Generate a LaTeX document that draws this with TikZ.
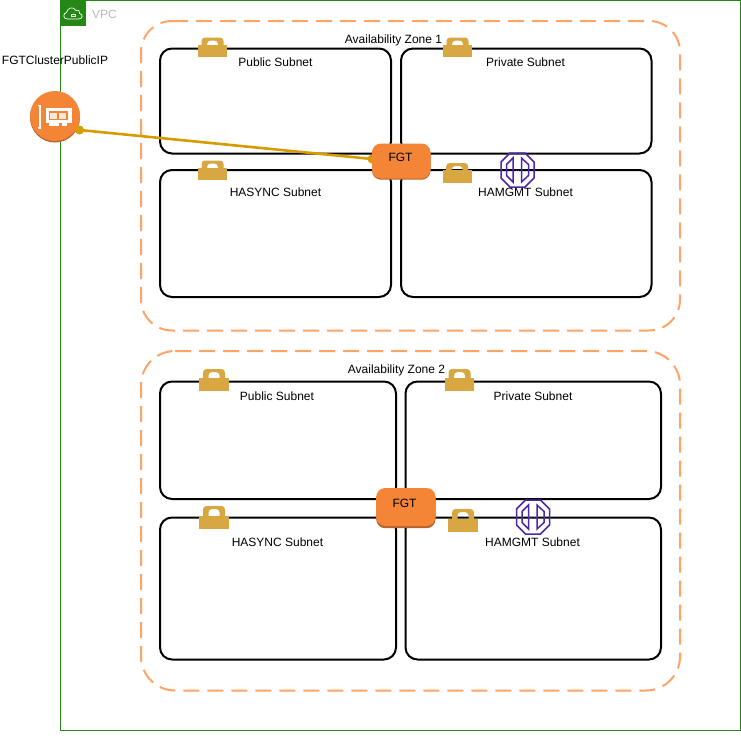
\documentclass[tikz,border=0pt]{standalone}
\usepackage{fontspec}
\setmainfont{Liberation Sans}
\definecolor{vpcgreen}{HTML}{248814}
\definecolor{azorange}{HTML}{FFA366}
\definecolor{awsorange}{HTML}{F58536}
\definecolor{awsdark}{HTML}{B8632A}
\definecolor{lockgold}{HTML}{D9A741}
\definecolor{edgegold}{HTML}{D79B00}
\definecolor{octpurple}{HTML}{4D27AA}
\tikzset{
  x=1pt,y=-1pt,
  vpcbox/.style={draw=vpcgreen,line width=1pt,fill=none},
  azbox/.style={draw=azorange,line width=2pt,dash pattern=on 16pt off 8pt},
  subnetbox/.style={draw=black,line width=2pt,rounded corners=12pt},
  lbl/.style={font=\fontsize{12}{14}\selectfont,inner sep=0pt,text=black},
  fgtbox/.style={fill=awsorange,rounded corners=9pt,draw=none},
  fgtshadow/.style={fill=awsdark,rounded corners=9pt,draw=none},
  conn/.style={draw=edgegold,line width=2.6pt},
  octo/.style={draw=octpurple,line width=1.5pt},
}
% x centre, shackle top, body top, body bottom
\newcommand{\mylock}[4]{%
  \fill[lockgold,even odd rule,rounded corners=3.5pt] (#1-11,#3+5) -- (#1-11,#2) -- (#1+11,#2) -- (#1+11,#3+5) -- cycle
     (#1-5.5,#3+5) -- (#1-5.5,#2+3) -- (#1+5.5,#2+3) -- (#1+5.5,#3+5) -- cycle;
  \fill[lockgold] (#1-14.7,#3) rectangle (#1+14.7,#4);
}
\newcommand{\myocto}[2]{%
  \begin{scope}[shift={(#1,#2)}]
    \draw[octo] (-7.5,-17) -- (7.5,-17) -- (16.5,-8) -- (16.5,8) -- (7.5,17) -- (-7.5,17) -- (-16.5,8) -- (-16.5,-8) -- cycle;
    \draw[octo] (-4.5,-12) -- (-4.5,12) -- (-11,5.5) -- (-11,-5.5) -- cycle;
    \draw[octo] (4,-12) -- (4,12) -- (11,5.5) -- (11,-5.5) -- cycle;
    \draw[octo,line width=.6pt,dotted] (-4.5,0) -- (4,0);
  \end{scope}}
\begin{document}
\begin{tikzpicture}
\useasboundingbox (0,0) rectangle (741,739);
% VPC
\draw[vpcbox] (60.5,0.5) rectangle (740.5,730.5);
\fill[vpcgreen] (60,0) rectangle (85.5,25.5);
\begin{scope}[shift={(73,13)}]
  \draw[white,line width=.7pt] (-5.5,6) .. controls (-10,6) and (-10.5,0.5) .. (-6.5,-0.5) .. controls (-5.5,-5.5) and (0.5,-7) .. (3,-2.5) .. controls (6,-3.5) and (7.5,-1) .. (6.5,0.5) .. controls (10.5,1) and (10,6) .. (5.5,6) -- cycle;
  \draw[white,line width=.6pt] (-2,0.9) rectangle (2,3.7);
  \draw[white,line width=.6pt] (-1.1,0.9) arc[start angle=180,end angle=0,radius=1.1];
\end{scope}
\node[lbl,text=gray!55] (vpclabel) at (104.5,14) {VPC};
% AZ boxes
\draw[azbox,rounded corners=31pt] (172,21) -- (680,21) -- (680,330.5) -- (141,330.5) -- (141,21) -- (172,21);
\draw[azbox,rounded corners=34pt] (175,351) -- (680,351) -- (680,690.5) -- (141,690.5) -- (141,351) -- (175,351);
\node[lbl] (az1) at (393.5,40) {Availability Zone 1};
\node[lbl] (az2) at (396.5,370) {Availability Zone 2};
% subnets AZ1
\draw[subnetbox] (160,48.5) rectangle (391,153.5);
\draw[subnetbox] (401,48.5) rectangle (651.5,153.5);
\draw[subnetbox] (160,170) rectangle (391,297);
\draw[subnetbox] (401,170) rectangle (651.5,297);
% subnets AZ2
\draw[subnetbox] (160,381.5) rectangle (396,499);
\draw[subnetbox] (405.5,381.5) rectangle (661,499);
\draw[subnetbox] (160,517.5) rectangle (396,659.5);
\draw[subnetbox] (405.5,517.5) rectangle (661,659.5);
% locks
\mylock{212.5}{37.5}{45}{56.7}
\mylock{457.5}{37.5}{45}{56.7}
\mylock{212.5}{160.5}{168}{180}
\mylock{457.2}{163}{170}{182.7}
\mylock{214}{369}{378}{391}
\mylock{459.5}{369}{378}{391}
\mylock{214}{506}{515.5}{528.5}
\mylock{463}{509}{518.5}{531.5}
% labels
\node[lbl] (pub1) at (275.5,62) {Public Subnet};
\node[lbl] (prv1) at (525.5,62) {Private Subnet};
\node[lbl] (has1) at (275.5,192) {HASYNC Subnet};
\node[lbl] (ham1) at (525.5,192) {HAMGMT Subnet};
\node[lbl] (pub2) at (277,396) {Public Subnet};
\node[lbl] (prv2) at (533,396) {Private Subnet};
\node[lbl] (has2) at (277.5,542) {HASYNC Subnet};
\node[lbl] (ham2) at (532.5,542) {HAMGMT Subnet};
% octagons
\myocto{517.5}{170}
\myocto{533}{517}
% IP
\fill[awsdark] (55,117.5) circle[radius=25];
\node[circle,fill=awsorange,minimum size=50pt,inner sep=0pt] (ip) at (55,116) {};
\begin{scope}[shift={(55,116)}]
  \draw[white,line width=1.2pt] (-17,-10.5) -- (-15,-10.5) -- (-15,12) -- (-17,12);
  \fill[white] (-9,-8) rectangle (17,7);
  \fill[white] (-6,7) rectangle (4,10);
  \fill[white] (7,7) rectangle (12,10);
  \filldraw[draw=awsorange,fill=white!80!awsorange,line width=1.2pt] (-5.5,-4) rectangle (3,3.5);
  \filldraw[draw=awsorange,fill=white!80!awsorange,line width=1.2pt] (3.5,-4) rectangle (12,3.5);
\end{scope}
\node[lbl] (iplabel) at (55,60) {FGTClusterPublicIP};
% FGT nodes
\coordinate (ipend) at (79.5,130);
\coordinate (fgtend) at (372,159);
\draw[conn] (ipend) -- (fgtend);
\fill[edgegold] (ipend) circle[radius=4.5];
\fill[edgegold] (fgtend) circle[radius=4.5];
\fill[fgtshadow] (372,145) rectangle (430.5,179.7);
\node[fgtbox,minimum width=58.5pt,minimum height=35pt,inner sep=0pt] (fgta) at (401.25,161) {};
\node[lbl] (fgtalabel) at (400.5,157) {FGT};
\fill[fgtshadow] (376.2,490) rectangle (435.5,528.2);
\node[fgtbox,minimum width=59.3pt,minimum height=38pt,inner sep=0pt] (fgtb) at (405.85,507) {};
\node[lbl] (fgtblabel) at (404.5,503) {FGT};
\end{tikzpicture}
\end{document}
